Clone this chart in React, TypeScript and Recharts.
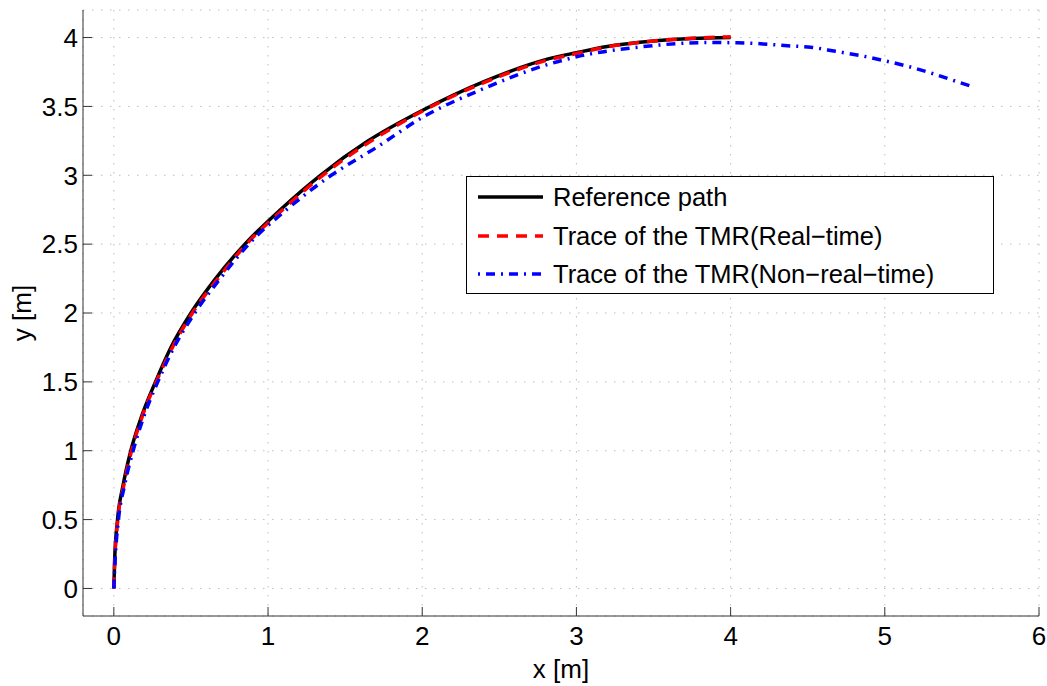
import { CartesianGrid, Legend, Line, LineChart, XAxis, YAxis } from "recharts";

const FONT = '"Liberation Sans", Arial, Helvetica, sans-serif';

// [x, y] in metres
const referencePath: [number, number][] = [
  [0, 0], [0.005, 0.2], [0.024, 0.5], [0.06, 0.75], [0.11, 1.0], [0.18, 1.25],
  [0.27, 1.5], [0.37, 1.75], [0.5, 2.0], [0.66, 2.25], [0.85, 2.5], [1.08, 2.75],
  [1.34, 3.0], [1.65, 3.25], [2.0, 3.47], [2.4, 3.68], [2.8, 3.84], [3.0, 3.89],
  [3.2, 3.935], [3.5, 3.975], [3.75, 3.993], [4.0, 4.0],
];

const realTime: [number, number][] = [
  [0, 0], [0.006, 0.2], [0.026, 0.5], [0.065, 0.75], [0.115, 1.0], [0.185, 1.25],
  [0.275, 1.5], [0.38, 1.75], [0.51, 2.0], [0.675, 2.25], [0.86, 2.5], [1.095, 2.75],
  [1.355, 3.0], [1.67, 3.25], [2.0, 3.465], [2.4, 3.672], [2.8, 3.832], [3.0, 3.884],
  [3.2, 3.932], [3.5, 3.975], [3.75, 3.995], [4.0, 4.005],
];

const nonRealTime: [number, number][] = [
  [0, 0], [0.008, 0.2], [0.03, 0.5], [0.07, 0.75], [0.125, 1.0], [0.195, 1.25],
  [0.285, 1.5], [0.39, 1.75], [0.525, 2.0], [0.69, 2.25], [0.875, 2.5], [1.12, 2.75],
  [1.41, 3.0], [1.7, 3.2], [2.0, 3.42], [2.4, 3.63], [2.8, 3.8], [3.0, 3.86],
  [3.4, 3.93], [3.86, 3.964], [4.04, 3.962], [4.21, 3.954], [4.37, 3.94], [4.52, 3.93],
  [4.68, 3.9], [4.85, 3.867], [5.0, 3.831], [5.16, 3.788], [5.32, 3.735], [5.47, 3.679],
  [5.55, 3.65],
];

const xTicks = [0, 1, 2, 3, 4, 5, 6];
const yTicks = [0, 0.5, 1, 1.5, 2, 2.5, 3, 3.5, 4];

const legendItems = [
  { name: "Reference path", color: "#000000", dash: undefined },
  { name: "Trace of the TMR(Real\u2212time)", color: "#ff0000", dash: "11 8" },
  { name: "Trace of the TMR(Non\u2212real\u2212time)", color: "#0000ff", dash: "2 6 9 6" },
];

const toPoints = (rows: [number, number][]) => rows.map(([x, y]) => ({ x, y }));

const tickStyle = { fill: "#000", fontSize: 26, fontFamily: FONT };

const LegendBox = () => (
  <div
    style={{
      width: 528,
      height: 118,
      border: "1.5px solid #000",
      background: "#fff",
      boxSizing: "border-box",
      paddingTop: 1,
      fontFamily: FONT,
    }}
  >
    {legendItems.map((item) => (
      <div key={item.name} style={{ display: "flex", alignItems: "center", height: 38.5 }}>
        <svg width={80} height={20}>
          <line x1={11} x2={76} y1={10} y2={10} stroke={item.color} strokeWidth={3.5} strokeDasharray={item.dash} />
        </svg>
        <span style={{ marginLeft: 6, fontSize: 25.5, lineHeight: "26px", color: "#000", whiteSpace: "nowrap" }}>
          {item.name}
        </span>
      </div>
    ))}
  </div>
);

const YLabel = ({ viewBox }: any) => {
  const cx = viewBox.x + 14;
  const cy = viewBox.y + viewBox.height / 2;
  return (
    <text
      x={cx}
      y={cy}
      transform={`rotate(-90 ${cx} ${cy})`}
      textAnchor="middle"
      dominantBaseline="central"
      fill="#000"
      fontSize={26}
      fontFamily={FONT}
    >
      y [m]
    </text>
  );
};

export default function App() {
  return (
    <>
      <style>{"body { margin: 0; }"}</style>
      <LineChart
        width={1047}
        height={686}
        margin={{ top: 10, right: 8, bottom: 0, left: 8 }}
        style={{ fontFamily: FONT }}
      >
        <CartesianGrid stroke="#bdbdbd" strokeDasharray="1.5 7.5" />
        <XAxis
          dataKey="x"
          type="number"
          domain={[-0.2, 6]}
          ticks={xTicks}
          allowDataOverflow
          height={70}
          stroke="#333"
          tickSize={-9}
          tickMargin={20}
          tick={tickStyle}
          label={{ value: "x [m]", position: "insideBottom", offset: 8, fill: "#000", fontSize: 26, fontFamily: FONT }}
        />
        <XAxis
          xAxisId="top"
          orientation="top"
          dataKey="x"
          type="number"
          domain={[-0.2, 6]}
          ticks={xTicks}
          allowDataOverflow
          height={0}
          stroke="#333"
          tickSize={-9}
          tickFormatter={() => ""}
        />
        <YAxis
          type="number"
          domain={[-0.2, 4.2]}
          ticks={yTicks}
          allowDataOverflow
          width={75}
          stroke="#333"
          tickSize={-9}
          tickMargin={14}
          tick={tickStyle}
          label={<YLabel />}
        />
        <YAxis
          yAxisId="right"
          orientation="right"
          type="number"
          domain={[-0.2, 4.2]}
          ticks={yTicks}
          allowDataOverflow
          width={0}
          stroke="#333"
          tickSize={-9}
          tickFormatter={() => ""}
        />
        <Line
          data={toPoints(referencePath)}
          dataKey="y"
          type="monotone"
          stroke="#000"
          strokeWidth={3.5}
          dot={false}
          isAnimationActive={false}
        />
        <Line
          data={toPoints(realTime)}
          dataKey="y"
          type="monotone"
          stroke="#ff0000"
          strokeWidth={3.5}
          strokeDasharray="11 8"
          dot={false}
          isAnimationActive={false}
        />
        <Line
          data={toPoints(nonRealTime)}
          dataKey="y"
          type="monotone"
          stroke="#0000ff"
          strokeWidth={3.5}
          strokeDasharray="9 6 2 6"
          dot={false}
          isAnimationActive={false}
        />
        <Legend
          layout="horizontal"
          verticalAlign="middle"
          align="center"
          content={<LegendBox />}
          wrapperStyle={{ left: 466, top: 176, width: 528, height: 118 }}
        />
      </LineChart>
    </>
  );
}
